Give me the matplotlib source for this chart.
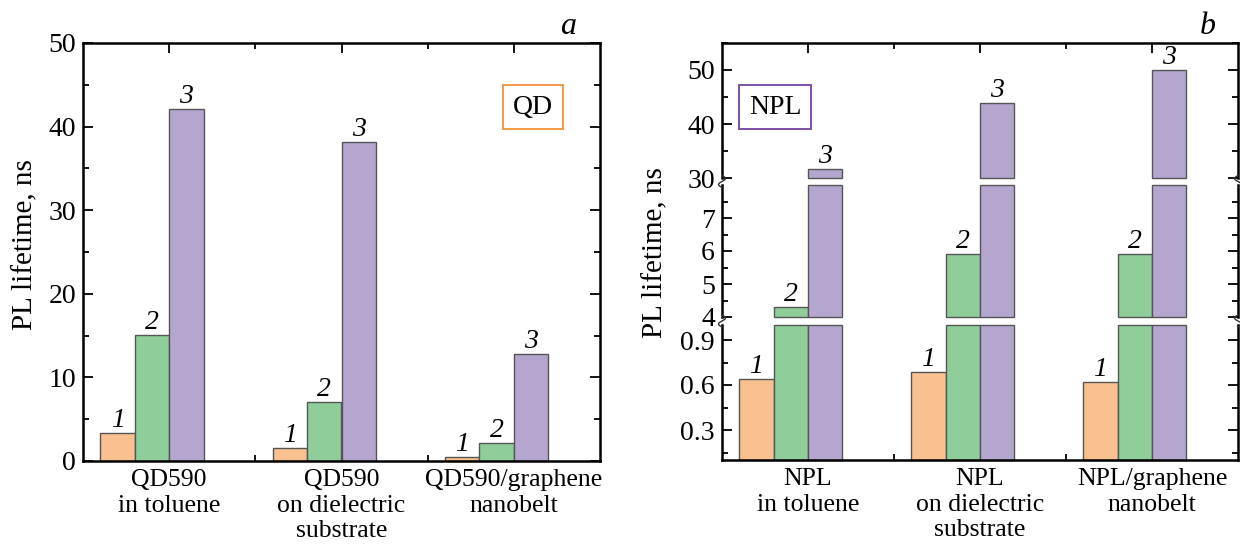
import numpy as np
import matplotlib
matplotlib.use("Agg")
import matplotlib.pyplot as plt
from matplotlib.ticker import MultipleLocator, FixedLocator
from matplotlib.lines import Line2D

plt.rcParams['font.family'] = ['Liberation Serif', 'DejaVu Serif']
plt.rcParams['font.size'] = 18

# ---------------- data ----------------
qd_groups = ["QD590\nin toluene", "QD590\non dielectric\nsubstrate", "QD590/graphene\nnanobelt"]
qd_s1 = [3.4, 1.6, 0.5]
qd_s2 = [15.1, 7.1, 2.1]
qd_s3 = [42.1, 38.2, 12.8]

npl_groups = ["NPL\nin toluene", "NPL\non dielectric\nsubstrate", "NPL/graphene\nnanobelt"]
npl_s1 = [0.64, 0.69, 0.62]
npl_s2 = [4.3, 5.9, 5.9]
npl_s3 = [31.7, 43.8, 50.0]

series_labels = ["1", "2", "3"]
colors = ["#F9C190", "#8FCE9B", "#B4A6CF"]
edge = "#555555"

W, H = 1240, 546
fig = plt.figure(figsize=(W / 100, H / 100), dpi=100)

TICK_FS = 20
XLAB_FS = 18.5
NUM_FS = 20
YLAB_FS = 21


def pax(l, t, r, b):
    return fig.add_axes([l / W, 1 - b / H, (r - l) / W, (b - t) / H])


bw = 0.2
offsets = [-1.5 * bw, -0.5 * bw, 0.5 * bw]
x = np.arange(3)


def style_ticks(ax):
    ax.tick_params(which='both', direction='in', top=True, right=True, width=1.3)
    ax.tick_params(which='major', length=7)
    ax.tick_params(which='minor', length=4)
    ax.tick_params(axis='y', labelsize=TICK_FS, pad=5)
    ax.tick_params(axis='x', labelsize=XLAB_FS, pad=6)
    for s in ax.spines.values():
        s.set_linewidth(1.8)


def num_label(ax, xi, v, s):
    ax.annotate(s, (xi, v), xytext=(0, 6), textcoords='offset pixels', ha='center', va='baseline',
                style='italic', fontsize=NUM_FS, annotation_clip=False)


# ---------------- panel a ----------------
axa = pax(83, 43, 600, 461)
series = [qd_s1, qd_s2, qd_s3]
for i, vals in enumerate(series):
    axa.bar(x + offsets[i], vals, width=bw, color=colors[i], edgecolor=edge, linewidth=1.0, zorder=2)
    for xi, v in zip(x + offsets[i], vals):
        num_label(axa, xi, v, series_labels[i])
axa.set_xlim(-0.5, 2.5)
axa.set_ylim(0, 50)
axa.set_xticks(x)
axa.set_xticklabels(qd_groups, linespacing=1.2)
axa.xaxis.set_minor_locator(FixedLocator([0.5, 1.5]))
axa.yaxis.set_major_locator(MultipleLocator(10))
axa.yaxis.set_minor_locator(MultipleLocator(5))
style_ticks(axa)
fig.text(25 / W, 1 - 245 / H, "PL lifetime, ns", rotation=90, fontsize=YLAB_FS, ha='center', va='center')
fig.text(568 / W, 1 - 26 / H, "a", style='italic', fontsize=23, ha='center', va='center')
fig.text(533 / W, 1 - 107 / H, "QD", fontsize=20, ha='center', va='center',
         bbox=dict(boxstyle='square,pad=0.35', fc='white', ec='#F39A45', lw=1.4))

# ---------------- panel b (broken axis) ----------------
segs = [(30, 55), (4, 8), (0.1, 1.0)]
rows = [(43, 178), (185, 317), (325, 460)]
series_b = [npl_s1, npl_s2, npl_s3]
for k, ((lo, hi), (t, b)) in enumerate(zip(segs, rows)):
    ax = pax(722, t, 1238, b)
    for i, vals in enumerate(series_b):
        for xi, v in zip(x + offsets[i], vals):
            if v > lo:
                top = min(v, hi)
                ax.bar(xi, top - lo, bottom=lo, width=bw, color=colors[i], edgecolor=edge,
                       linewidth=1.0, zorder=2, clip_on=False)
                if v <= hi:
                    num_label(ax, xi, v, series_labels[i])
    ax.set_xlim(-0.5, 2.5)
    ax.set_ylim(lo, hi)
    style_ticks(ax)
    ax.xaxis.set_minor_locator(FixedLocator([0.5, 1.5]))
    ax.set_xticks(x)
    if k == 0:
        ax.yaxis.set_major_locator(FixedLocator([30, 40, 50]))
        ax.yaxis.set_minor_locator(FixedLocator([35, 45, 55]))
        ax.spines['bottom'].set_visible(False)
        ax.tick_params(axis='x', which='both', bottom=False, labelbottom=False)
    elif k == 1:
        ax.yaxis.set_major_locator(FixedLocator([4, 5, 6, 7]))
        ax.yaxis.set_minor_locator(FixedLocator([4.5, 5.5, 6.5, 7.5]))
        ax.spines['bottom'].set_visible(False)
        ax.spines['top'].set_visible(False)
        ax.tick_params(axis='x', which='both', bottom=False, top=False, labelbottom=False)
    else:
        ax.yaxis.set_major_locator(FixedLocator([0.3, 0.6, 0.9]))
        ax.yaxis.set_minor_locator(FixedLocator([0.15, 0.45, 0.75]))
        ax.yaxis.set_major_formatter(matplotlib.ticker.FormatStrFormatter('%.1f'))
        ax.spines['top'].set_visible(False)
        ax.tick_params(axis='x', which='both', top=False)
        ax.set_xticklabels(npl_groups, linespacing=1.2)

fig.text(655 / W, 1 - 253 / H, "PL lifetime, ns", rotation=90, fontsize=YLAB_FS, ha='center', va='center')
fig.text(1208 / W, 1 - 26 / H, "b", style='italic', fontsize=23, ha='center', va='center')
fig.text(775 / W, 1 - 107 / H, "NPL", fontsize=20, ha='center', va='center',
         bbox=dict(boxstyle='square,pad=0.35', fc='white', ec='#7B4FA6', lw=1.4))

# break marks (small S-curves) on left and right spines
tt = np.linspace(0, 1, 30)
for yc in [181.5, 321]:
    for xc in [722, 1238]:
        xs = xc + 3.5 * np.sin(tt * 2 * np.pi) * (1 if xc < 1000 else -1)
        ys = yc - 6 + 12 * tt
        fig.add_artist(Line2D(xs / W, 1 - ys / H, transform=fig.transFigure, color='#333333', lw=1.0))

fig.savefig("out.png", dpi=100)
